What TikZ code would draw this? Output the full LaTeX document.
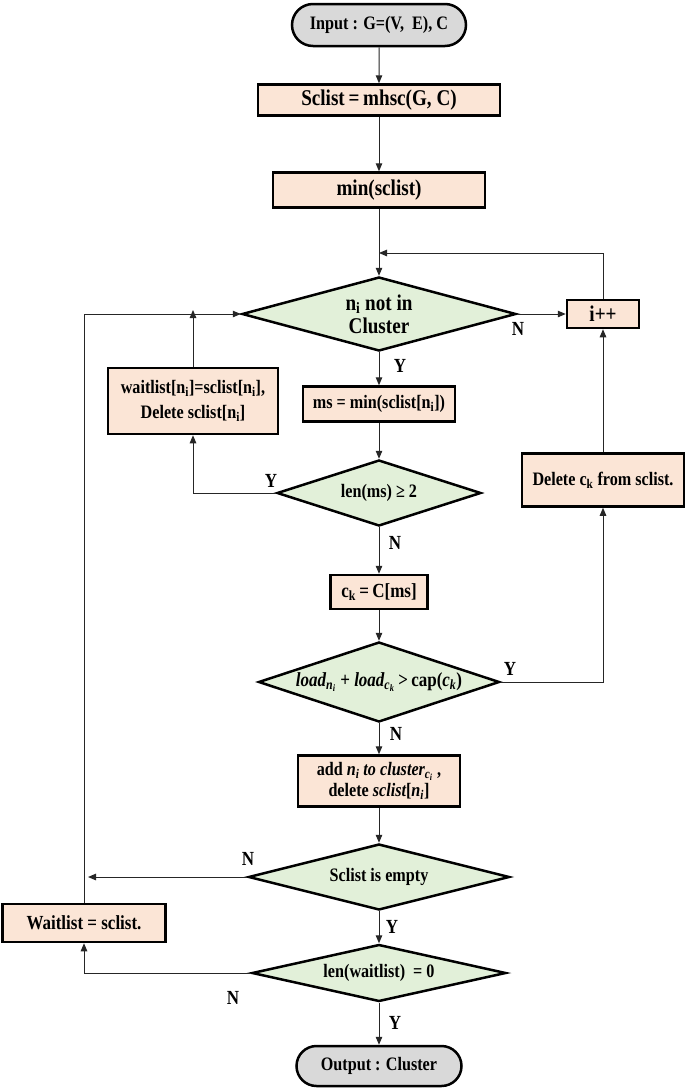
\documentclass[tikz,border=0pt]{standalone}
\usepackage{fontspec}
\setmainfont{Liberation Serif}[FakeStretch=0.85]
\usetikzlibrary{arrows.meta,shapes.geometric,shapes.misc}
\definecolor{procfill}{HTML}{FBE5D6}
\definecolor{decfill}{HTML}{E2F0D9}
\definecolor{termfill}{HTML}{D9D9D9}
\newcommand{\fsz}[2]{\fontsize{#1}{#2}\selectfont\bfseries}
\tikzset{
  proc/.style={rectangle, draw, line width=2.5pt, fill=procfill, align=center, inner sep=2pt, font=\fsz{19}{22}},
  decision/.style={diamond, draw, line width=2.5pt, fill=decfill, align=center, inner sep=0pt, font=\fsz{19}{22}},
  term/.style={rounded rectangle, draw, line width=2.5pt, fill=termfill, inner sep=2pt, font=\fsz{19}{22}},
  arr/.style={line width=1pt, draw=black!85, -{Triangle[length=8pt,width=6.5pt]}},
  yn/.style={font=\fsz{20}{20}, inner sep=0pt}
}
\begin{document}
\begin{tikzpicture}[x=1pt,y=-1pt]
\fill[white] (0,0) rectangle (685,1090);
\useasboundingbox (0,0) rectangle (685,1090);

\node[term, minimum width=178, minimum height=42] (in) at (379,25) {Input : G=(V,\ \ E), C};
\node[proc, minimum width=242, minimum height=31, font=\fsz{22.5}{25}] (sc) at (379,100) {Sclist\,=\,mhsc(G, C)};
\node[proc, minimum width=212, minimum height=35, font=\fsz{22.5}{25}] (mn) at (379,190) {min(sclist)};
\node[decision, minimum width=274, minimum height=74, aspect=3.6, font=\fsz{22.5}{23}] (nc) at (379,314) {n\textsubscript{i} not in\\Cluster};
\node[proc, minimum width=72, minimum height=28, font=\fsz{22.5}{25}] (inc) at (603,314) {i++};
\node[proc, minimum width=152, minimum height=35] (ms) at (379,404) {ms = min(sclist[n\textsubscript{i}])};
\node[proc, minimum width=170, minimum height=66, font=\fsz{19}{25}] (wl) at (193,401) {waitlist[n\textsubscript{i}]=sclist[n\textsubscript{i}],\\Delete sclist[n\textsubscript{i}]};
\node[decision, minimum width=204, minimum height=66, aspect=3] (lm) at (379,493) {len(ms) ≥ 2};
\node[proc, minimum width=162, minimum height=53] (del) at (603,480) {Delete c\textsubscript{k} from sclist.};
\node[proc, minimum width=97, minimum height=34, font=\fsz{20}{22}] (ck) at (379,592) {c\textsubscript{k}\,=\,C[ms]};
\node[decision, minimum width=241, minimum height=80, aspect=3, font=\fsz{20}{22}] (ld) at (379,682)
  {\makebox[0pt]{{\itshape load}\textsubscript{\itshape n\textsubscript{i}} + {\itshape load}\textsubscript{\itshape c\textsubscript{k}}\,>\,cap({\itshape c}\textsubscript{\itshape k})}};
\node[proc, minimum width=162, minimum height=51, font=\fsz{19}{21}] (add) at (379,781)
  {add {\itshape n}\textsubscript{\itshape i} {\itshape to cluster}\textsubscript{\itshape c\textsubscript{i}} ,\\delete {\itshape sclist}[{\itshape n}\textsubscript{\itshape i}]};
\node[decision, minimum width=261, minimum height=66, aspect=3.9] (emp) at (379,877) {Sclist is empty};
\node[proc, minimum width=163, minimum height=38, font=\fsz{20}{22}] (wt) at (84,923) {Waitlist = sclist.};
\node[decision, minimum width=254, minimum height=57, aspect=4.3] (lw) at (379,973) {len(waitlist)\ \ = 0};
\node[term, minimum width=169, minimum height=40] (out) at (379,1066) {Output : Cluster};

\coordinate (back) at (379,253);

% main column
\draw[arr] (in) -- (sc);
\draw[arr] (sc) -- (mn);
\draw[arr] (mn) -- (nc);
\draw[arr] (nc) -- (ms);
\draw[arr] (ms) -- (lm);
\draw[arr] (lm) -- (ck);
\draw[arr] (ck) -- (ld);
\draw[arr] (ld) -- (add);
\draw[arr] (add) -- (emp);
\draw[arr] (emp) -- (lw);
\draw[arr] (lw) -- (out);

% loops
\draw[arr] (nc.east) -- (inc.west);
\draw[arr] (inc) |- (back);
\draw[arr] (lm.west) -| (wl.south);
\draw[arr] (wl.north) -- ([yshift=4pt]wl.north |- nc.west);
\draw[arr] (ld.east) -| (del.south);
\draw[arr] (del) -- (inc);
\draw[arr, shorten >=4pt] (emp.west) -- (emp.west -| wt.north);
\draw[arr] (lw.west) -| (wt.south);
\draw[arr] (wt.north) |- (nc.west);

% Y / N
\node[yn] (n1) at (518,329) {N};
\node[yn] (y1) at (400,366) {Y};
\node[yn] (y2) at (271,481) {Y};
\node[yn] (n2) at (395,543) {N};
\node[yn] (y3) at (510,669) {Y};
\node[yn] (n3) at (396,734) {N};
\node[yn] (n4) at (248,859) {N};
\node[yn] (y4) at (392,927) {Y};
\node[yn] (n5) at (233,998) {N};
\node[yn] (y5) at (395,1023) {Y};
\end{tikzpicture}
\end{document}
